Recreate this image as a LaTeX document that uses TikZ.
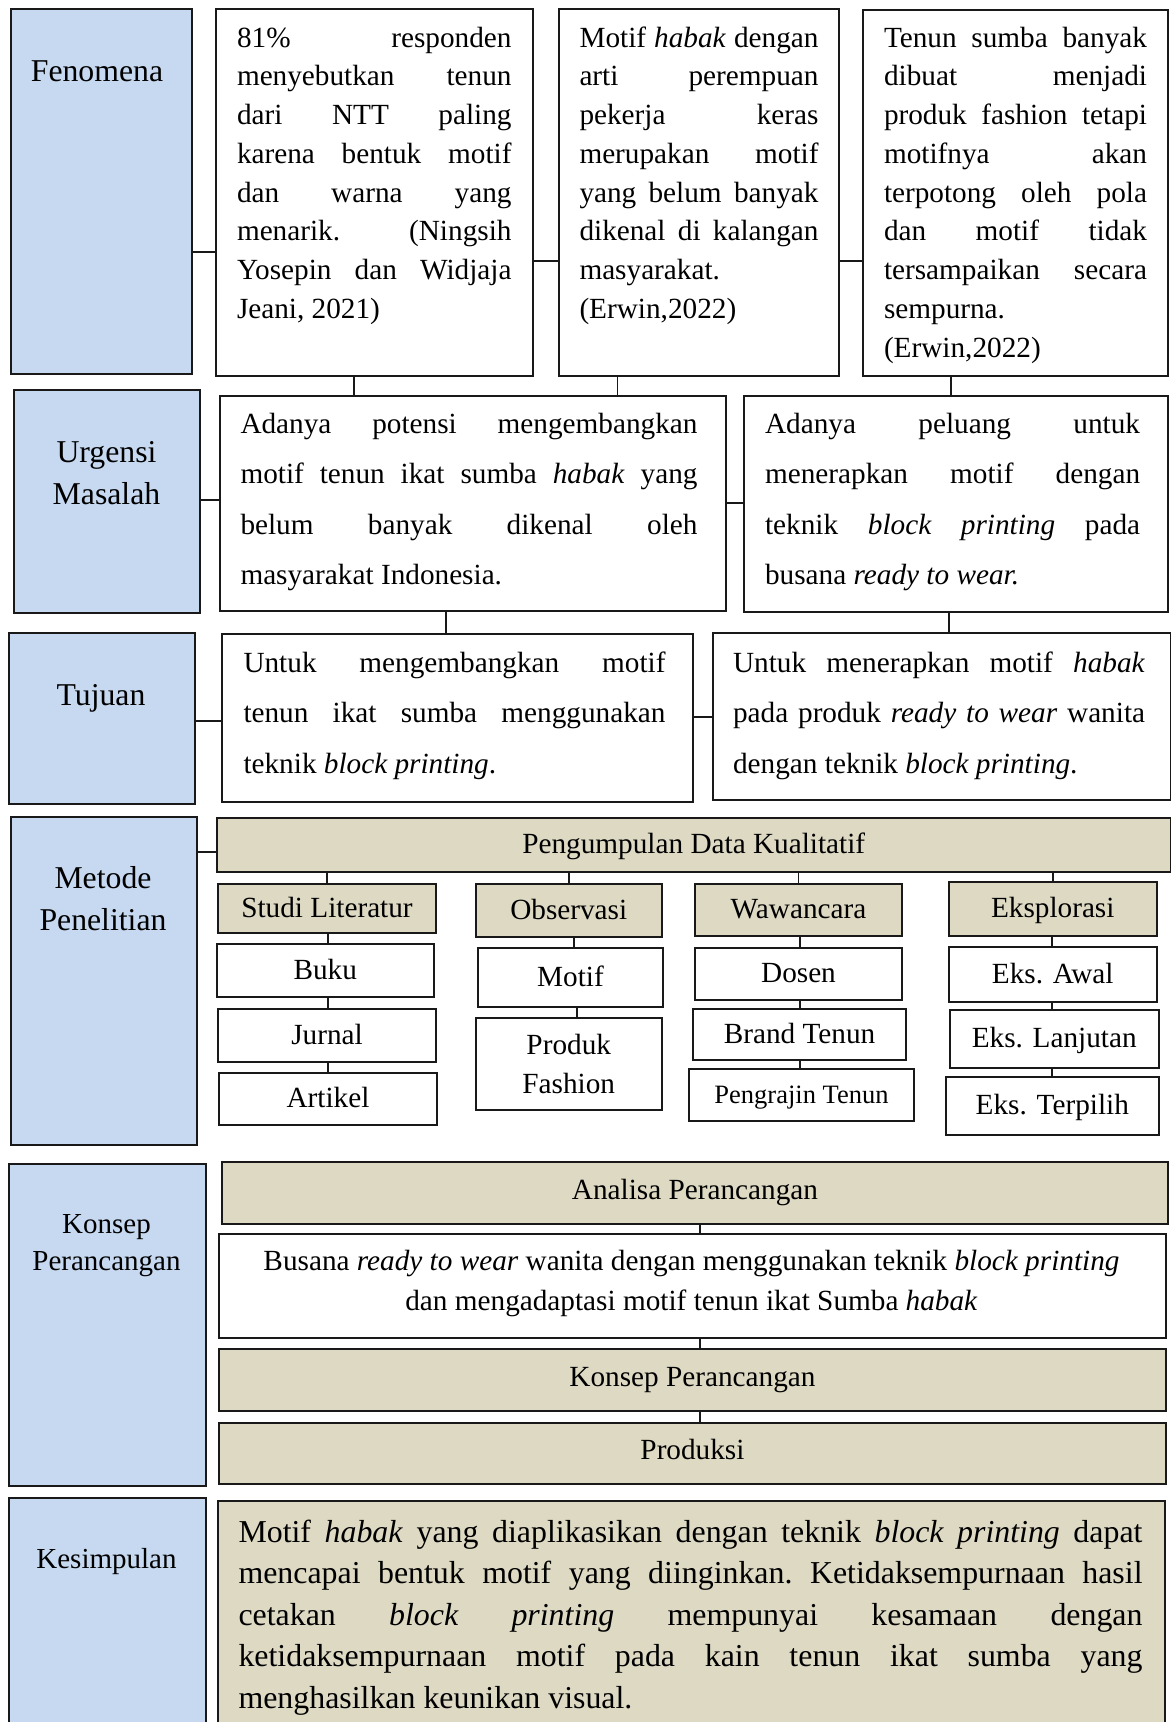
\documentclass[tikz,border=0pt]{standalone}
\usepackage{fontspec}
\setmainfont{Liberation Serif}
\usetikzlibrary{calc}
\definecolor{lblue}{HTML}{C6D9F1}
\definecolor{tanc}{HTML}{DDD9C3}
\newcommand\rs{\spaceskip=0pt\xspaceskip=0pt\frenchspacing}
\newcommand\JL[1]{{\rs\makebox[\hsize][s]{\rs #1}}}
\newcommand\JC[1]{{\rs\makebox[\hsize][c]{\rs #1}}}
\newcommand\bx[7][]{%
  \pgfmathsetmacro\bxw{(#5-#3)*0.4}%
  \pgfmathsetmacro\bxh{(#6-#4)*0.4}%
  \node[box,#1,anchor=north west,minimum width=\bxw pt,minimum height=\bxh pt] (#2) at (#3,#4) {#7};}
\tikzset{
  box/.style={draw=black!90,line width=0.8pt,inner sep=0pt,fill=white},
  lab/.style={fill=lblue},
  tanf/.style={fill=tanc},
  r4/.style={text height=0.88em,text depth=0.2em},
  r5/.style={text height=0.7em,text depth=0.2em},
  f117/.style={font=\fontsize{11.7}{15.5}\selectfont},
  f106/.style={font=\fontsize{10.6}{13}\selectfont},
  conn/.style={draw=black!90,line width=0.6pt},
  bodyA/.style={anchor=base west,inner sep=0pt,align=left,font=\fontsize{11.7}{15.5}\selectfont},
  bodyB/.style={anchor=base west,inner sep=0pt,align=left,font=\fontsize{11.7}{20.2}\selectfont},
  bodyK/.style={anchor=base west,inner sep=0pt,align=left,font=\fontsize{12.75}{16.6}\selectfont},
  labF/.style={anchor=base,inner sep=0pt,text width=72pt,align=center,font=\fontsize{12.7}{16.8}\selectfont},
  labS/.style={anchor=base,inner sep=0pt,text width=74pt,align=center,font=\fontsize{11.6}{14.8}\selectfont},
}
\begin{document}
\begin{tikzpicture}[x=0.4pt,y=-0.4pt]
\useasboundingbox (0,0) rectangle (1171,1722);
\clip (0,0) rectangle (1171,1722);

% ---------- Row 1: Fenomena
\bx[lab]{fen}{9.6}{8.3}{191}{373}{}
\bx{b1}{215}{8}{532}{375}{}
\bx{b2}{558}{8}{838}{375}{}
\bx{b3}{862}{9}{1167}{375}{}
\node[labF] (fent) at (97,81) {Fenomena};
\node[bodyA,text width=109.8pt] (b1t) at (236.5,47) {\rs\JL{81\% responden}\\
\JL{menyebutkan tenun}\\
\JL{dari NTT paling}\\
\JL{karena bentuk motif}\\
\JL{dan warna yang}\\
\JL{menarik. (Ningsih}\\
\JL{Yosepin dan Widjaja}\\
Jeani, 2021)};
\node[bodyA,text width=95.6pt] (b2t) at (579,47) {\rs\JL{Motif \textit{habak} dengan}\\
\JL{arti perempuan}\\
\JL{pekerja keras}\\
\JL{merupakan motif}\\
\JL{yang belum banyak}\\
\JL{dikenal di kalangan}\\
masyarakat.\\
(Erwin,2022)};
\node[bodyA,text width=105.2pt] (b3t) at (883.5,47) {\rs\JL{Tenun sumba banyak}\\
\JL{dibuat menjadi}\\
\JL{produk fashion tetapi}\\
\JL{motifnya akan}\\
\JL{terpotong oleh pola}\\
\JL{dan motif tidak}\\
\JL{tersampaikan secara}\\
sempurna.\\
(Erwin,2022)};

% ---------- Row 2: Urgensi
\bx[lab]{urg}{13.4}{389}{199}{612}{}
\bx{u1}{219}{395}{724.5}{610}{}
\bx{u2}{743}{395}{1167}{611}{}
\node[labF] (urgt) at (106.5,462) {Urgensi\\Masalah};
\node[bodyB,text width=182.8pt] (u1t) at (240,433) {\rs\JL{Adanya potensi mengembangkan}\\
\JL{motif tenun ikat sumba \textit{habak} yang}\\
\JL{belum banyak dikenal oleh}\\
masyarakat Indonesia.};
\node[bodyB,text width=150pt] (u2t) at (764.6,433) {\rs\JL{Adanya peluang untuk}\\
\JL{menerapkan motif dengan}\\
\JL{teknik \textit{block printing} pada}\\
busana \textit{ready to wear.}};

% ---------- Row 3: Tujuan
\bx[lab]{tuj}{8.4}{632}{194}{803}{}
\bx{t1}{221}{633}{692}{801}{}
\bx{t2}{712}{632}{1170}{799}{}
\node[labF] (tujt) at (101,705) {Tujuan};
\node[bodyB,text width=168.8pt] (t1t) at (243,672) {\rs\JL{Untuk mengembangkan motif}\\
\JL{tenun ikat sumba menggunakan}\\
teknik \textit{block printing}.};
\node[bodyB,text width=164.8pt] (t2t) at (732.6,672) {\rs\JL{Untuk menerapkan motif \textit{habak}}\\
\JL{pada produk \textit{ready to wear} wanita}\\
dengan teknik \textit{block printing}.};

% ---------- Row 4: Metode Penelitian
\bx[lab]{met}{9.6}{816}{196}{1144}{}
\node[labF] (mett) at (103,888) {Metode\\Penelitian};
\bx[tanf,r4,f117]{pdk}{215.5}{817}{1170}{871}{Pengumpulan Data Kualitatif}
\bx[tanf,r4,f117]{sl}{217}{883}{435}{932}{Studi Literatur}
\bx[r4,f117]{buku}{215.5}{943}{433}{996}{Buku}
\bx[r4,f117]{jur}{217}{1008}{435}{1061}{Jurnal}
\bx[r4,f117]{art}{218}{1072}{436}{1124}{Artikel}
\bx[tanf,r4,f117]{obs}{475}{883}{660.5}{936}{Observasi}
\bx[r4,f117]{mot}{477}{947}{662}{1006}{Motif}
\bx[f117,align=center]{pro}{475}{1017}{660.5}{1109}{Produk\\Fashion}
\bx[tanf,r4,f117]{waw}{694}{883}{901}{935}{Wawancara}
\bx[r4,f117]{dos}{694}{947}{901}{999}{Dosen}
\bx[r4,f117]{bra}{692}{1008}{905}{1059}{Brand Tenun}
\bx[r4,f106]{pen}{688}{1068}{913}{1120}{Pengrajin Tenun}
\bx[tanf,r4,f117]{eks}{948}{881}{1155.5}{935}{Eksplorasi}
\bx[r4,f117]{awa}{948}{946}{1155.5}{1001}{Eks. Awal}
\bx[r4,f117]{lan}{948.5}{1009}{1158}{1067}{Eks. Lanjutan}
\bx[r4,f117]{ter}{944.6}{1076}{1158}{1134}{Eks. Terpilih}

% ---------- Row 5: Konsep Perancangan
\bx[lab]{kon}{8.4}{1163}{205}{1485}{}
\node[labS] (kont) at (106.5,1233) {Konsep\\Perancangan};
\bx[tanf,r5,f117]{ana}{221}{1161}{1167}{1223}{Analisa Perancangan}
\bx{bus}{218}{1233}{1165}{1337}{}
\node[anchor=base,inner sep=0pt,text width=380pt,align=left,font=\fontsize{11.7}{16}\selectfont] (bust) at (691.5,1270) {\rs\JC{Busana \textit{ready to wear} wanita dengan menggunakan teknik \textit{block printing}}\\
\JC{dan mengadaptasi motif tenun ikat Sumba \textit{habak}}};
\bx[tanf,r5,f117]{kp}{218}{1348}{1165}{1410}{Konsep Perancangan}
\bx[tanf,r5,f117]{prd}{218}{1422}{1165}{1483}{Produksi}

% ---------- Row 6: Kesimpulan
\bx[lab]{kes}{8.4}{1497}{205}{1770}{}
\node[labS] (kest) at (106.5,1568) {Kesimpulan};
\bx[tanf]{kt}{217}{1500}{1164}{1770}{}
\node[bodyK,text width=361.6pt] (ktt) at (238,1542) {\rs\JL{Motif \textit{habak} yang diaplikasikan dengan teknik \textit{block printing} dapat}\\
\JL{mencapai bentuk motif yang diinginkan. Ketidaksempurnaan hasil}\\
\JL{cetakan \textit{block printing} mempunyai kesamaan dengan}\\
\JL{ketidaksempurnaan motif pada kain tenun ikat sumba yang}\\
menghasilkan keunikan visual.};

% ---------- connector levels
\coordinate (h1) at (0,252);
\coordinate (h2) at (0,261);
\coordinate (v1) at (354,0);
\coordinate (v2) at (617.5,0);
\coordinate (v3) at (951,0);
\coordinate (h3) at (0,500);
\coordinate (h4) at (0,503);
\coordinate (v4) at (446,0);
\coordinate (v5) at (949,0);
\coordinate (h5) at (0,721);
\coordinate (h6) at (0,717);
\coordinate (h7) at (0,852);
\coordinate (k1) at (328,0);
\coordinate (k2) at (574,0);
\coordinate (k3) at (577,0);
\coordinate (k4) at (800,0);
\coordinate (k5) at (1052,0);
\coordinate (k6) at (700,0);

\draw[conn] (fen.east |- h1) -- (b1.west |- h1);
\draw[conn] (b1.east |- h2) -- (b2.west |- h2);
\draw[conn] (b2.east |- h2) -- (b3.west |- h2);
\draw[conn] (b1.south -| v1) -- (u1.north -| v1);
\draw[conn] (b2.south -| v2) -- (u1.north -| v2);
\draw[conn] (b3.south -| v3) -- (u2.north -| v3);
\draw[conn] (urg.east |- h3) -- (u1.west |- h3);
\draw[conn] (u1.east |- h4) -- (u2.west |- h4);
\draw[conn] (u1.south -| v4) -- (t1.north -| v4);
\draw[conn] (u2.south -| v5) -- (t2.north -| v5);
\draw[conn] (tuj.east |- h5) -- (t1.west |- h5);
\draw[conn] (t1.east |- h6) -- (t2.west |- h6);
\draw[conn] (met.east |- h7) -- (pdk.west |- h7);
\foreach \c in {sl,obs,waw,eks}{\draw[conn] (\c.north) -- (\c.north |- pdk.south);}
\draw[conn] (sl.south -| k1) -- (buku.north -| k1);
\draw[conn] (buku.south -| k1) -- (jur.north -| k1);
\draw[conn] (jur.south -| k1) -- (art.north -| k1);
\draw[conn] (obs.south -| k2) -- (mot.north -| k2);
\draw[conn] (mot.south -| k3) -- (pro.north -| k3);
\draw[conn] (waw.south -| k4) -- (dos.north -| k4);
\draw[conn] (dos.south -| k4) -- (bra.north -| k4);
\draw[conn] (bra.south -| k4) -- (pen.north -| k4);
\draw[conn] (eks.south -| k5) -- (awa.north -| k5);
\draw[conn] (awa.south -| k5) -- (lan.north -| k5);
\draw[conn] (lan.south -| k5) -- (ter.north -| k5);
\draw[conn] (ana.south -| k6) -- (bus.north -| k6);
\draw[conn] (bus.south -| k6) -- (kp.north -| k6);
\draw[conn] (kp.south -| k6) -- (prd.north -| k6);
\end{tikzpicture}
\end{document}
